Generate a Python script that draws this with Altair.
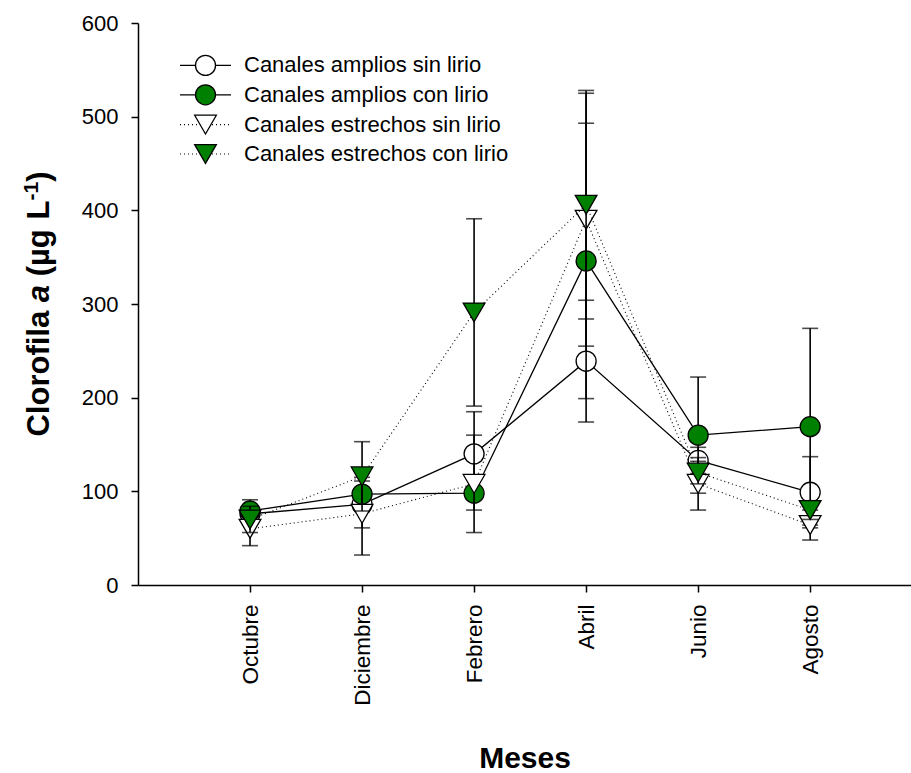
import altair as alt
import pandas as pd

# Months sampled (x positions 1..6)
months = ["Octubre", "Diciembre", "Febrero", "Abril", "Junio", "Agosto"]

series_names = [
    "Canales amplios sin lirio",
    "Canales amplios con lirio",
    "Canales estrechos sin lirio",
    "Canales estrechos con lirio",
]

# Chlorophyll a means (µg/L) and error (±) per month
amplios_sin = [76, 86, 140, 239, 133, 99]
amplios_sin_err = [5, 25, 45, 65, 14, 38]

amplios_con = [79, 97, 98, 346, 160, 169]
amplios_con_err = [12, 18, 18, 147, 62, 105]

estrechos_sin = [60, 76, 108, 390, 108, 64]
estrechos_sin_err = [18, 44, 52, 135, 28, 16]

estrechos_con = [70, 116, 291, 406, 120, 80]
estrechos_con_err = [14, 37, 100, 122, 12, 10]

values = [amplios_sin, amplios_con, estrechos_sin, estrechos_con]
errors = [amplios_sin_err, amplios_con_err, estrechos_sin_err, estrechos_con_err]

FONT = "Liberation Sans"
GREEN = "#008000"
W, H = 773, 562

styles = [
    dict(shape="circle", fill="white", dash=None, size=400),
    dict(shape="circle", fill=GREEN, dash=None, size=400),
    dict(shape="triangle-down", fill="white", dash=[1, 3], size=470),
    dict(shape="triangle-down", fill=GREEN, dash=[1, 3], size=470),
]

rows = []
for name, vals, errs in zip(series_names, values, errors):
    for i, (m, v, e) in enumerate(zip(months, vals, errs)):
        rows.append(dict(serie=name, pos=i + 1, mes=m, valor=v, lo=v - e, hi=v + e))
df = pd.DataFrame(rows)

label_expr = "[" + ",".join(f"'{m}'" for m in months) + "][datum.value - 1]"

x_axis = alt.Axis(
    values=list(range(1, len(months) + 1)),
    labelExpr=label_expr,
    labelAngle=-90,
    labelFont=FONT,
    labelFontSize=22.5,
    labelColor="black",
    labelPadding=12,
    tickSize=7,
    tickWidth=1.5,
    tickColor="black",
    domainColor="black",
    domainWidth=1.5,
    grid=False,
    title="Meses",
    titleFont=FONT,
    titleFontSize=30,
    titleFontWeight="bold",
    titleColor="black",
    titleBaseline="alphabetic",
    titleY=182,
)

y_axis = alt.Axis(
    values=[0, 100, 200, 300, 400, 500, 600],
    labelFont=FONT,
    labelFontSize=22,
    labelColor="black",
    labelPadding=13,
    tickSize=7,
    tickWidth=1.5,
    tickColor="black",
    domainColor="black",
    domainWidth=1.5,
    grid=False,
    title="",
)

x_scale = alt.Scale(domain=[0, 6.9], nice=False, zero=False)
y_scale = alt.Scale(domain=[0, 600], nice=False)

X = alt.X("pos:Q", scale=x_scale, axis=x_axis)
Y = alt.Y("valor:Q", scale=y_scale, axis=y_axis)

layers = []
for name, st in zip(series_names, styles):
    base = alt.Chart(df).transform_filter(alt.datum.serie == name)
    # error bar stems
    layers.append(
        base.mark_rule(color="black", strokeWidth=1.6).encode(
            x=X, y=alt.Y("lo:Q", scale=y_scale, axis=y_axis), y2="hi:Q"
        )
    )
    # error bar caps
    for col in ["lo", "hi"]:
        layers.append(
            base.mark_tick(orient="horizontal", color="black", size=16, thickness=1.6).encode(
                x=X, y=alt.Y(f"{col}:Q", scale=y_scale, axis=y_axis)
            )
        )
    # connecting line
    line_kw = dict(color="black", strokeWidth=1.3 if st["dash"] is None else 1.1)
    if st["dash"] is not None:
        line_kw["strokeDash"] = st["dash"]
    layers.append(base.mark_line(**line_kw).encode(x=X, y=Y))
    # symbols
    layers.append(
        base.mark_point(
            shape=st["shape"], fill=st["fill"], stroke="black", strokeWidth=1.3,
            size=st["size"], opacity=1, fillOpacity=1,
        ).encode(x=X, y=Y)
    )

# legend drawn inside the plot area, top-left
legend_rows = [42.4, 71.8, 101.6, 131]
for name, st, yy in zip(series_names, styles, legend_rows):
    ldf = pd.DataFrame({"serie": [name]})
    lb = alt.Chart(ldf)
    rule_kw = dict(color="black", strokeWidth=1.3 if st["dash"] is None else 1.1)
    if st["dash"] is not None:
        rule_kw["strokeDash"] = st["dash"]
    layers.append(
        lb.mark_rule(**rule_kw).encode(x=alt.value(42), x2=alt.value(93), y=alt.value(yy))
    )
    layers.append(
        lb.mark_point(
            shape=st["shape"], fill=st["fill"], stroke="black", strokeWidth=1.3,
            size=st["size"], opacity=1, fillOpacity=1,
        ).encode(x=alt.value(67.5), y=alt.value(yy))
    )
    layers.append(
        lb.mark_text(align="left", baseline="middle", font=FONT, fontSize=22, color="black").encode(
            x=alt.value(106), y=alt.value(yy), text="serie:N"
        )
    )

# Y axis title with italic "a" and a superscript exponent, set piece by piece
TS = 31  # title font size
bold_w = {"C": 722, "l": 278, "o": 611, "r": 389, "f": 333, "i": 278, "a": 556,
          " ": 278, "(": 333, ")": 333, "µ": 611, "g": 611, "L": 611, "-": 333, "1": 556}
# (text, style, relative size, raise, spaces after)
pieces = [
    ("Clorofila", "normal", 1.0, 0.0, 1),
    ("a", "italic", 1.0, 0.0, 1),
    ("(µg", "normal", 1.0, 0.0, 1),
    ("L", "normal", 1.0, 0.0, 0),
    ("-1", "normal", 0.68, 0.36, 0),
    (")", "normal", 1.0, 0.0, 0),
]
advances = [
    (sum(bold_w[c] for c in t) / 1000 * s + sp * bold_w[" "] / 1000) * TS
    for t, _, s, _, sp in pieces
]
total = sum(advances)
title_base_x = -89
start = H / 2 + total / 2
for (txt, style, scale, raise_, _), adv in zip(pieces, advances):
    tdf = pd.DataFrame({"t": [txt]})
    layers.append(
        alt.Chart(tdf).mark_text(
            align="left", baseline="alphabetic", angle=270, font=FONT,
            fontSize=TS * scale, fontWeight="bold", fontStyle=style, color="black",
        ).encode(x=alt.value(title_base_x - raise_ * TS), y=alt.value(start), text="t:N")
    )
    start -= adv

chart = (
    alt.layer(*layers)
    .properties(
        width=W,
        height=H,
        autosize=alt.AutoSizeParams(type="none"),
        padding={"left": 138, "top": 23, "right": 0, "bottom": 188},
        background="white",
    )
    .configure_view(stroke=None)
)

chart.save("out.html", embed_options={"renderer": "svg", "actions": False})
